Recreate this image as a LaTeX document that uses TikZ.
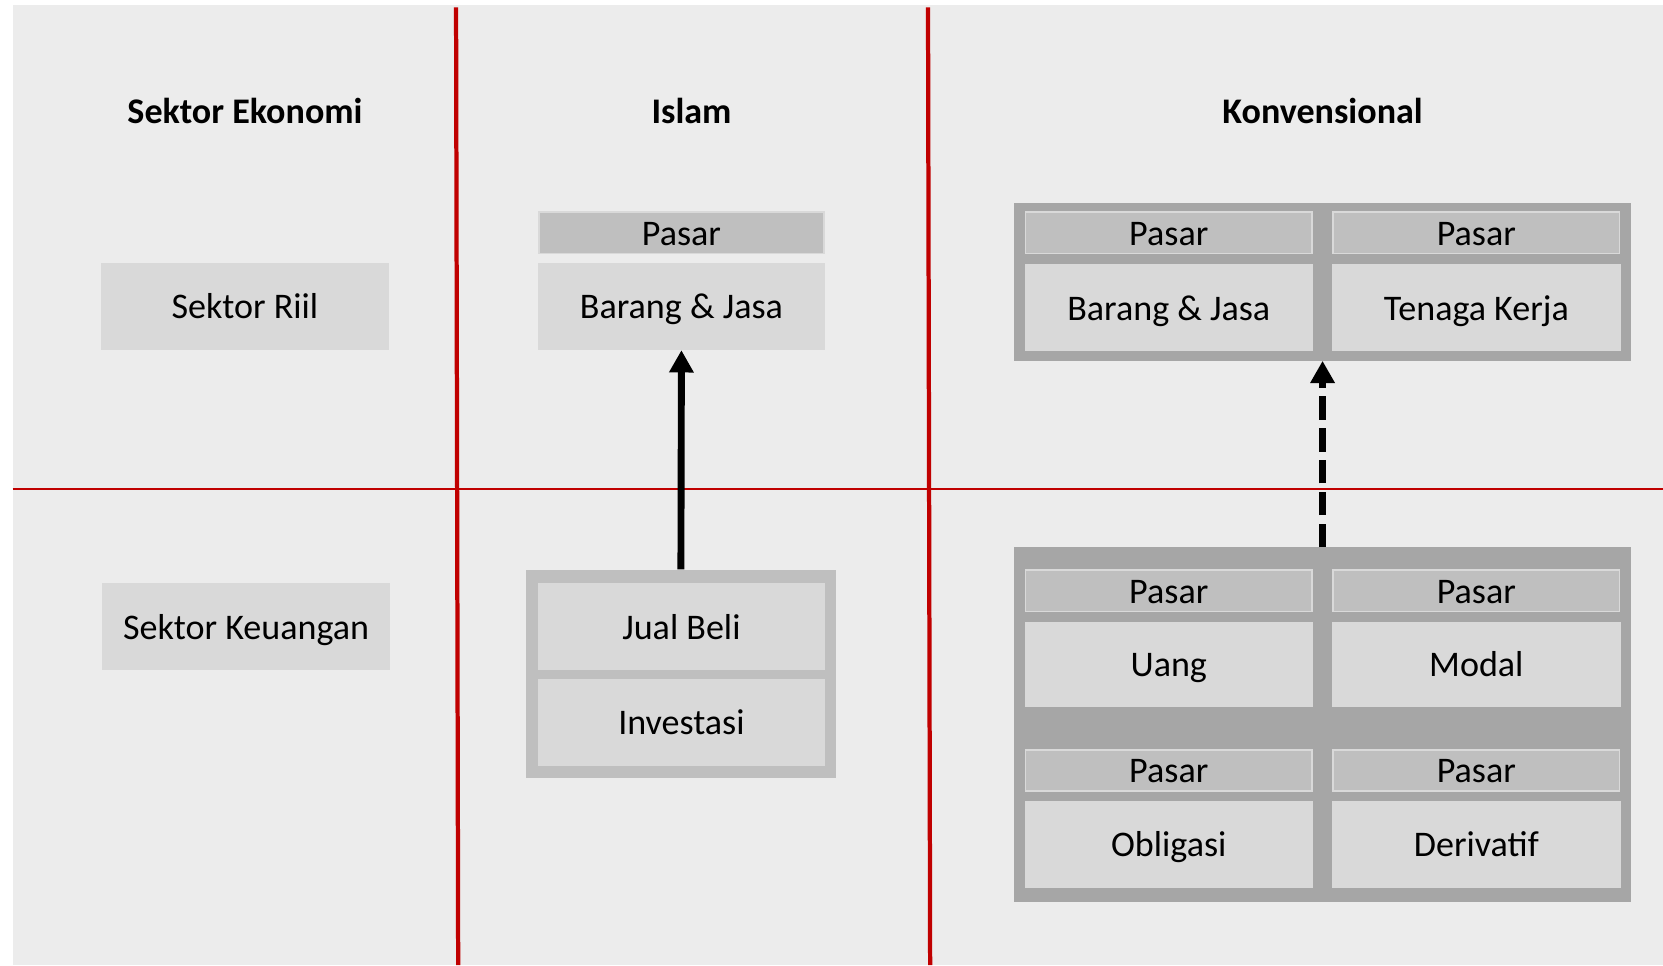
\documentclass[tikz,border=0pt]{standalone}
\usepackage{fontspec}
\setmainfont{Carlito}
\usetikzlibrary{arrows.meta}

\definecolor{latar}{HTML}{ECECEC}
\definecolor{kotak}{HTML}{D9D9D9}
\definecolor{pasarabu}{HTML}{BFBFBF}
\definecolor{grupabu}{HTML}{A6A6A6}
\definecolor{garismerah}{HTML}{C00000}

\tikzset{
  teks/.style={text height=30.5pt, text depth=7pt, inner sep=0pt},
  isi/.style={rectangle, teks, fill=kotak, minimum width=272pt, minimum height=82pt},
  pasarbox/.style={rectangle, teks, fill=pasarabu, draw=kotak, line width=1.5pt, minimum width=270pt, minimum height=39pt},
  grup/.style={rectangle, inner sep=0pt},
  judul/.style={teks, font=\fontsize{34}{41}\selectfont\bfseries},
  panah/.style={line width=6.5pt, -{Triangle[length=21pt,width=22pt]}},
}

\begin{document}
\begin{tikzpicture}[x=1pt, y=-1pt, font=\fontsize{34}{41}\selectfont]

\useasboundingbox (0,0) rectangle (1568,910);
\fill[latar] (12,5) rectangle (1568,910);

% Garis pembagi
\draw[garismerah, line width=4pt] (430,7) -- (432,910);
\draw[garismerah, line width=4pt] (875,7) -- (877,910);
\draw[garismerah, line width=1.6pt] (12,461) -- (1568,461);

% Judul kolom
\node[judul] (hEkonomi) at (231,105) {Sektor Ekonomi};
\node[judul] (hIslam) at (652,105) {Islam};
\node[judul] (hKonv) at (1247,105) {Konvensional};

% Sektor Ekonomi
\node[isi] (riil) at (231,289) {Sektor Riil};
\node[isi] (keuangan) at (232,591) {Sektor Keuangan};

% Islam
\node[pasarbox, minimum width=269pt] (iPasar) at (642.5,219.5) {Pasar};
\node[isi, minimum width=271pt] (iBarang) at (642.5,289) {Barang \& Jasa};
\node[grup, fill=pasarabu, minimum width=292pt, minimum height=197pt] (iGrup) at (642,635.5) {};
\node[isi, minimum width=271pt] (jualbeli) at (642.5,591) {Jual Beli};
\node[isi, minimum width=271pt] (investasi) at (642.5,681) {Investasi};
\draw[panah] (iGrup.north) -- (iBarang.south);

% Konvensional - sektor riil
\node[grup, fill=grupabu, minimum width=582pt, minimum height=149pt] (kAtas) at (1247,265.5) {};
\node[pasarbox] (kPasar1) at (1102,219.5) {Pasar};
\node[pasarbox] (kPasar2) at (1392,219.5) {Pasar};
\node[isi] (kBarang) at (1102,290) {Barang \& Jasa};
\node[isi] (kTenaga) at (1392,290) {Tenaga Kerja};

% Konvensional - sektor keuangan
\node[grup, fill=grupabu, minimum width=582pt, minimum height=334pt] (kBawah) at (1247,683) {};
\node[pasarbox] (kPasar3) at (1102,557) {Pasar};
\node[pasarbox] (kPasar4) at (1392,557) {Pasar};
\node[isi, minimum height=81pt] (uang) at (1102,626.5) {Uang};
\node[isi, minimum height=81pt] (modal) at (1392,626.5) {Modal};
\node[pasarbox] (kPasar5) at (1102,726.5) {Pasar};
\node[pasarbox] (kPasar6) at (1392,726.5) {Pasar};
\node[isi] (obligasi) at (1102,796) {Obligasi};
\node[isi] (derivatif) at (1392,796) {Derivatif};
\draw[panah, dash pattern=on 22pt off 8pt] (kBawah.north) -- (kAtas.south);

\end{tikzpicture}
\end{document}
